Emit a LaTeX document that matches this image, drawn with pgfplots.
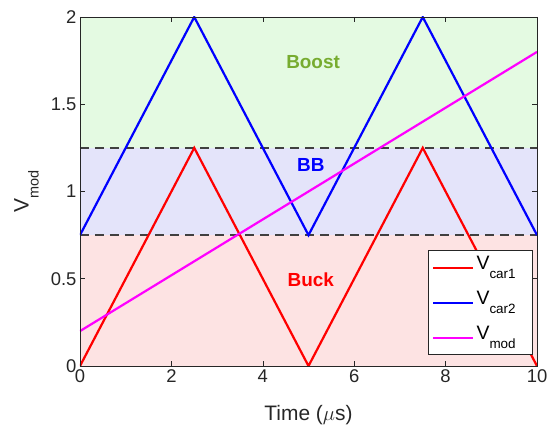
\documentclass[border=0pt]{standalone}
\usepackage{fontspec}
\setmainfont{Liberation Sans}
\usepackage{pgfplots}
\pgfplotsset{compat=1.18}
\definecolor{axgray}{RGB}{38,38,38}
\definecolor{bgred}{RGB}{253,227,227}
\definecolor{bgblue}{RGB}{228,228,250}
\definecolor{bggreen}{RGB}{228,250,226}
\definecolor{boostgreen}{RGB}{119,172,48}
\definecolor{dashgray}{RGB}{64,64,64}
\definecolor{pureR}{RGB}{255,0,0}
\definecolor{pureB}{RGB}{0,0,255}
\definecolor{pureM}{RGB}{255,0,255}
\newcommand{\lsub}[1]{\raisebox{-9bp}{\fontsize{13.5}{14}\selectfont #1}\hspace*{11bp}}
\newcommand{\ysub}[1]{\raisebox{-10bp}{\fontsize{14.5}{15}\selectfont #1}}
\begin{document}
\begin{tikzpicture}
\begin{axis}[name=ax, scale only axis, width=457bp, height=349bp,
  xmin=0, xmax=10, ymin=0, ymax=2,
  xtick={0,2,4,6,8,10}, ytick={0,0.5,1,1.5,2},
  axis line style={axgray, line width=0.6pt},
  tick style={axgray, line width=0.6pt},
  major tick length=5bp,
  tick label style={font=\fontsize{18.5}{20}\selectfont, text=axgray},
  /pgf/number format/assume math mode=true,
  xlabel={Time ($\mu$s)}, ylabel={V\ysub{mod}},
  label style={font=\fontsize{21}{24}\selectfont, text=axgray},
  xlabel style={at={(axis description cs:0.5,0)}, anchor=base, yshift=-54bp},
  ylabel style={at={(axis description cs:-0.0897,0.5)}, anchor=south, inner sep=0pt},
  axis on top,
  legend style={at={(0.9912,0.0315)}, anchor=south east, draw=axgray, line width=0.6pt, fill=white,
    font=\fontsize{19.5}{22}\selectfont, row sep=7bp, inner xsep=4bp, inner ysep=3bp,
    nodes={inner xsep=2bp, inner ysep=1bp, text height=15bp, text depth=11bp}},
  legend cell align=left,
  legend image code/.code={\draw[mark repeat=2,mark phase=2,#1] plot coordinates {(0bp,0bp) (20bp,0bp) (40bp,0bp)};},
]
\addplot[fill=bgred, draw=none, forget plot] coordinates {(0,0) (10,0) (10,0.75) (0,0.75)} -- cycle;
\addplot[fill=bgblue, draw=none, forget plot] coordinates {(0,0.75) (10,0.75) (10,1.25) (0,1.25)} -- cycle;
\addplot[fill=bggreen, draw=none, forget plot] coordinates {(0,1.25) (10,1.25) (10,2) (0,2)} -- cycle;
\addplot[dashgray, line width=2bp, dash pattern=on 9bp off 6bp, forget plot] coordinates {(0,0.75) (10,0.75)};
\addplot[dashgray, line width=2bp, dash pattern=on 9bp off 6bp, forget plot] coordinates {(0,1.25) (10,1.25)};
\addplot[pureR, line width=2.2bp] coordinates {(0,0) (2.5,1.25) (5,0) (7.5,1.25) (10,0)};
\addlegendentry{V\lsub{car1}}
\addplot[pureB, line width=2.2bp] coordinates {(0,0.75) (2.5,2) (5,0.75) (7.5,2) (10,0.75)};
\addlegendentry{V\lsub{car2}}
\addplot[pureM, line width=2.2bp] coordinates {(0,0.2) (10,1.8)};
\addlegendentry{V\lsub{mod}}
\node[text=boostgreen, font=\fontsize{19}{20}\selectfont\bfseries] at (axis cs:5.1,1.74) {Boost};
\node[text=pureB, font=\fontsize{19}{20}\selectfont\bfseries] at (axis cs:5.05,1.15) {BB};
\node[text=pureR, font=\fontsize{19}{20}\selectfont\bfseries] at (axis cs:5.05,0.495) {Buck};
\end{axis}
\pgfresetboundingbox
\useasboundingbox ([xshift=-80bp,yshift=-59bp]ax.south west) rectangle ([xshift=12bp,yshift=17bp]ax.north east);
\end{tikzpicture}
\end{document}
